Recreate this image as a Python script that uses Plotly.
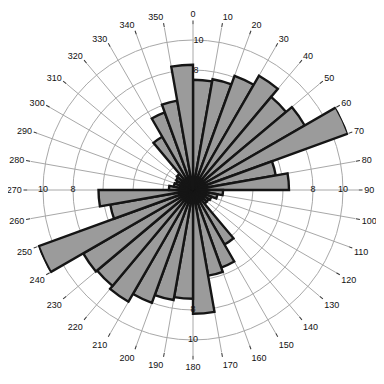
import plotly.graph_objects as go

# bin centres (degrees, compass, clockwise from north)
bin_starts = list(range(0, 360, 10))
bin_centres = [b + 5 for b in bin_starts]
counts = [7.35, 7.5, 8.1, 8.8, 8.1, 8.6, 11.0, 5.6, 6.4,      # 0-90
          2.0, 1.65, 1.3, 1.2, 1.2, 4.2, 5.5, 5.8, 8.25,      # 90-180
          7.25, 7.45, 8.0, 8.6, 8.35, 8.45, 10.95, 5.6, 6.3,  # 180-270
          1.6, 1.3, 1.2, 1.3, 1.4, 4.1, 5.5, 6.05, 8.35]      # 270-360

angle_ticks = list(range(0, 360, 10))
angle_labels = [str(a) for a in angle_ticks]
ring_vals = [2, 4, 6, 8, 10]
ring_text = ["", "", "", "8", "10"]
extra_label_r = [8, 10]
extra_label_dirs = [90, 180, 270]

fig = go.Figure()
fig.add_trace(go.Barpolar(
    r=counts, theta=bin_centres, width=[10] * len(counts),
    marker=dict(color="#9b9b9b", line=dict(color="#151515", width=2.4)),
    opacity=1, showlegend=False, hoverinfo="skip",
))
lab_r, lab_t, lab_s = [], [], []
for d in extra_label_dirs:
    for v in extra_label_r:
        lab_r.append(v)
        lab_t.append(d)
        lab_s.append(str(v))
fig.add_trace(go.Scatterpolar(
    r=lab_r, theta=lab_t, mode="text", text=lab_s,
    textfont=dict(size=9, color="#111", family="Liberation Sans, Arial"),
    showlegend=False, hoverinfo="skip",
))

fig.update_layout(
    width=384, height=384,
    margin=dict(l=20, r=34, t=17, b=37),
    paper_bgcolor="white", plot_bgcolor="white",
    font=dict(family="Liberation Sans, Arial", size=9, color="#111"),
    polar=dict(
        bgcolor="white",
        bargap=0,
        domain=dict(x=[0, 1], y=[0, 1]),
        radialaxis=dict(
            range=[0, 11.0], tickvals=ring_vals, ticktext=ring_text,
            angle=90, tickangle=90, showline=False, ticks="",
            gridcolor="#a8a8a8", gridwidth=1,
            tickfont=dict(size=9, color="#111"),
        ),
        angularaxis=dict(
            rotation=90, direction="clockwise",
            tickvals=angle_ticks, ticktext=angle_labels,
            showline=False, ticks="outside", ticklen=4, tickcolor="#333",
            gridcolor="#a8a8a8", gridwidth=1,
            tickfont=dict(size=9, color="#111"),
        ),
    ),
)
fig.write_html("out.html")
